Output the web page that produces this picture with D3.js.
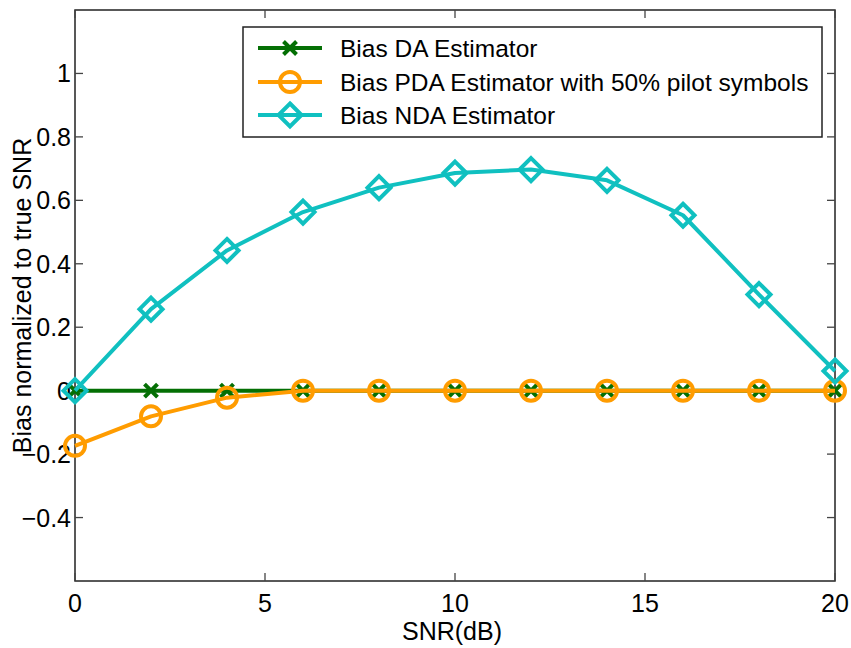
<!DOCTYPE html>
<html>
<head>
<meta charset="utf-8">
<script src="https://cdn.jsdelivr.net/npm/d3@7"></script>
<style>
  html, body { margin: 0; padding: 0; background: #fff; }
  svg { display: block; }
  text { font-family: "Liberation Sans", Arial, Helvetica, sans-serif; fill: #000; }
</style>
</head>
<body>
<svg id="chart" width="851" height="648"></svg>
<script>
// SNR points (dB)
const snrDb = [0, 2, 4, 6, 8, 10, 12, 14, 16, 18, 20];
// Bias normalized to the true SNR, per estimator
const biasDA  = [0, 0, 0, 0, 0, 0, 0, 0, 0, 0, 0];
const biasPDA = [-0.174, -0.081, -0.022, 0, 0, 0, 0, 0, 0, 0, 0];
const biasNDA = [0, 0.257, 0.442, 0.563, 0.640, 0.686, 0.697, 0.663, 0.553, 0.303, 0.062];

const xTicks = [0, 5, 10, 15, 20];
const yTicks = [-0.4, -0.2, 0, 0.2, 0.4, 0.6, 0.8, 1];
const yTickLabels = ["\u22120.4", "\u22120.2", "0", "0.2", "0.4", "0.6", "0.8", "1"];

const seriesNames = [
  "Bias DA Estimator",
  "Bias PDA Estimator with 50% pilot symbols",
  "Bias NDA Estimator"
];

const series = [
  { name: seriesNames[0], values: biasDA,  color: "#046f04", marker: "x" },
  { name: seriesNames[1], values: biasPDA, color: "#ff9c00", marker: "o" },
  { name: seriesNames[2], values: biasNDA, color: "#10c0c0", marker: "d" }
];

const svg = d3.select("#chart");
const plot = { left: 75, right: 835, top: 10, bottom: 581 };

const x = d3.scaleLinear().domain([0, 20]).range([plot.left, plot.right]);
const y = d3.scaleLinear().domain([-0.6, 1.2]).range([plot.bottom, plot.top]);

const FONT = 25;
const LEGEND_FONT = 24.5;
const tickLen = 8;

// Axes box
svg.append("rect")
  .attr("x", plot.left).attr("y", plot.top)
  .attr("width", plot.right - plot.left).attr("height", plot.bottom - plot.top)
  .attr("fill", "none").attr("stroke", "#222").attr("stroke-width", 1.5);

// Inward ticks on all four sides
const tickG = svg.append("g").attr("stroke", "#444").attr("stroke-width", 1.3);
xTicks.forEach(t => {
  tickG.append("line").attr("x1", x(t)).attr("x2", x(t)).attr("y1", plot.bottom).attr("y2", plot.bottom - tickLen);
  tickG.append("line").attr("x1", x(t)).attr("x2", x(t)).attr("y1", plot.top).attr("y2", plot.top + tickLen);
});
yTicks.forEach(t => {
  tickG.append("line").attr("x1", plot.left).attr("x2", plot.left + tickLen).attr("y1", y(t)).attr("y2", y(t));
  tickG.append("line").attr("x1", plot.right).attr("x2", plot.right - tickLen).attr("y1", y(t)).attr("y2", y(t));
});

// Tick labels
svg.append("g").selectAll("text").data(xTicks).join("text")
  .attr("x", d => x(d)).attr("y", 612)
  .attr("text-anchor", "middle").attr("font-size", FONT)
  .text(d => d);

svg.append("g").selectAll("text").data(yTicks).join("text")
  .attr("x", 71).attr("y", d => y(d) + 9)
  .attr("text-anchor", "end").attr("font-size", FONT)
  .text((d, i) => yTickLabels[i]);

// Axis titles
svg.append("text")
  .attr("x", 452).attr("y", 640)
  .attr("text-anchor", "middle").attr("font-size", FONT)
  .text("SNR(dB)");

svg.append("text")
  .attr("transform", `translate(31,${(plot.top + plot.bottom) / 2}) rotate(-90)`)
  .attr("text-anchor", "middle").attr("font-size", FONT)
  .text("Bias normalized to true SNR");

// Marker drawing
function drawMarker(g, kind, cx, cy, color) {
  if (kind === "x") {
    const s = 6.5;
    g.append("path")
      .attr("d", `M${cx - s},${cy - s}L${cx + s},${cy + s}M${cx - s},${cy + s}L${cx + s},${cy - s}`)
      .attr("stroke", color).attr("stroke-width", 4).attr("fill", "none");
  } else if (kind === "o") {
    g.append("circle").attr("cx", cx).attr("cy", cy).attr("r", 10)
      .attr("stroke", color).attr("stroke-width", 4).attr("fill", "none");
  } else {
    const s = 11.5;
    g.append("path")
      .attr("d", `M${cx},${cy - s}L${cx + s},${cy}L${cx},${cy + s}L${cx - s},${cy}Z`)
      .attr("stroke", color).attr("stroke-width", 4).attr("fill", "none")
      .attr("stroke-linejoin", "miter");
  }
}

const line = d3.line().x(d => x(d[0])).y(d => y(d[1]));

series.forEach(s => {
  const g = svg.append("g");
  const pts = snrDb.map((v, i) => [v, s.values[i]]);
  g.append("path").attr("d", line(pts))
    .attr("fill", "none").attr("stroke", s.color).attr("stroke-width", 4)
    .attr("stroke-linejoin", "round");
  pts.forEach(p => drawMarker(g, s.marker, x(p[0]), y(p[1]), s.color));
});

// Legend
const leg = { x: 243, y: 27, w: 579, h: 110 };
const legG = svg.append("g");
legG.append("rect")
  .attr("x", leg.x).attr("y", leg.y).attr("width", leg.w).attr("height", leg.h)
  .attr("fill", "#fff").attr("stroke", "#222").attr("stroke-width", 1.5);
const rowY = [48, 82, 115];
series.forEach((s, i) => {
  const cy = rowY[i];
  legG.append("line").attr("x1", 258).attr("x2", 322).attr("y1", cy).attr("y2", cy)
    .attr("stroke", s.color).attr("stroke-width", 4);
  drawMarker(legG, s.marker, 290, cy, s.color);
  legG.append("text").attr("x", 340).attr("y", cy + 9)
    .attr("font-size", LEGEND_FONT).text(s.name);
});
</script>
</body>
</html>
